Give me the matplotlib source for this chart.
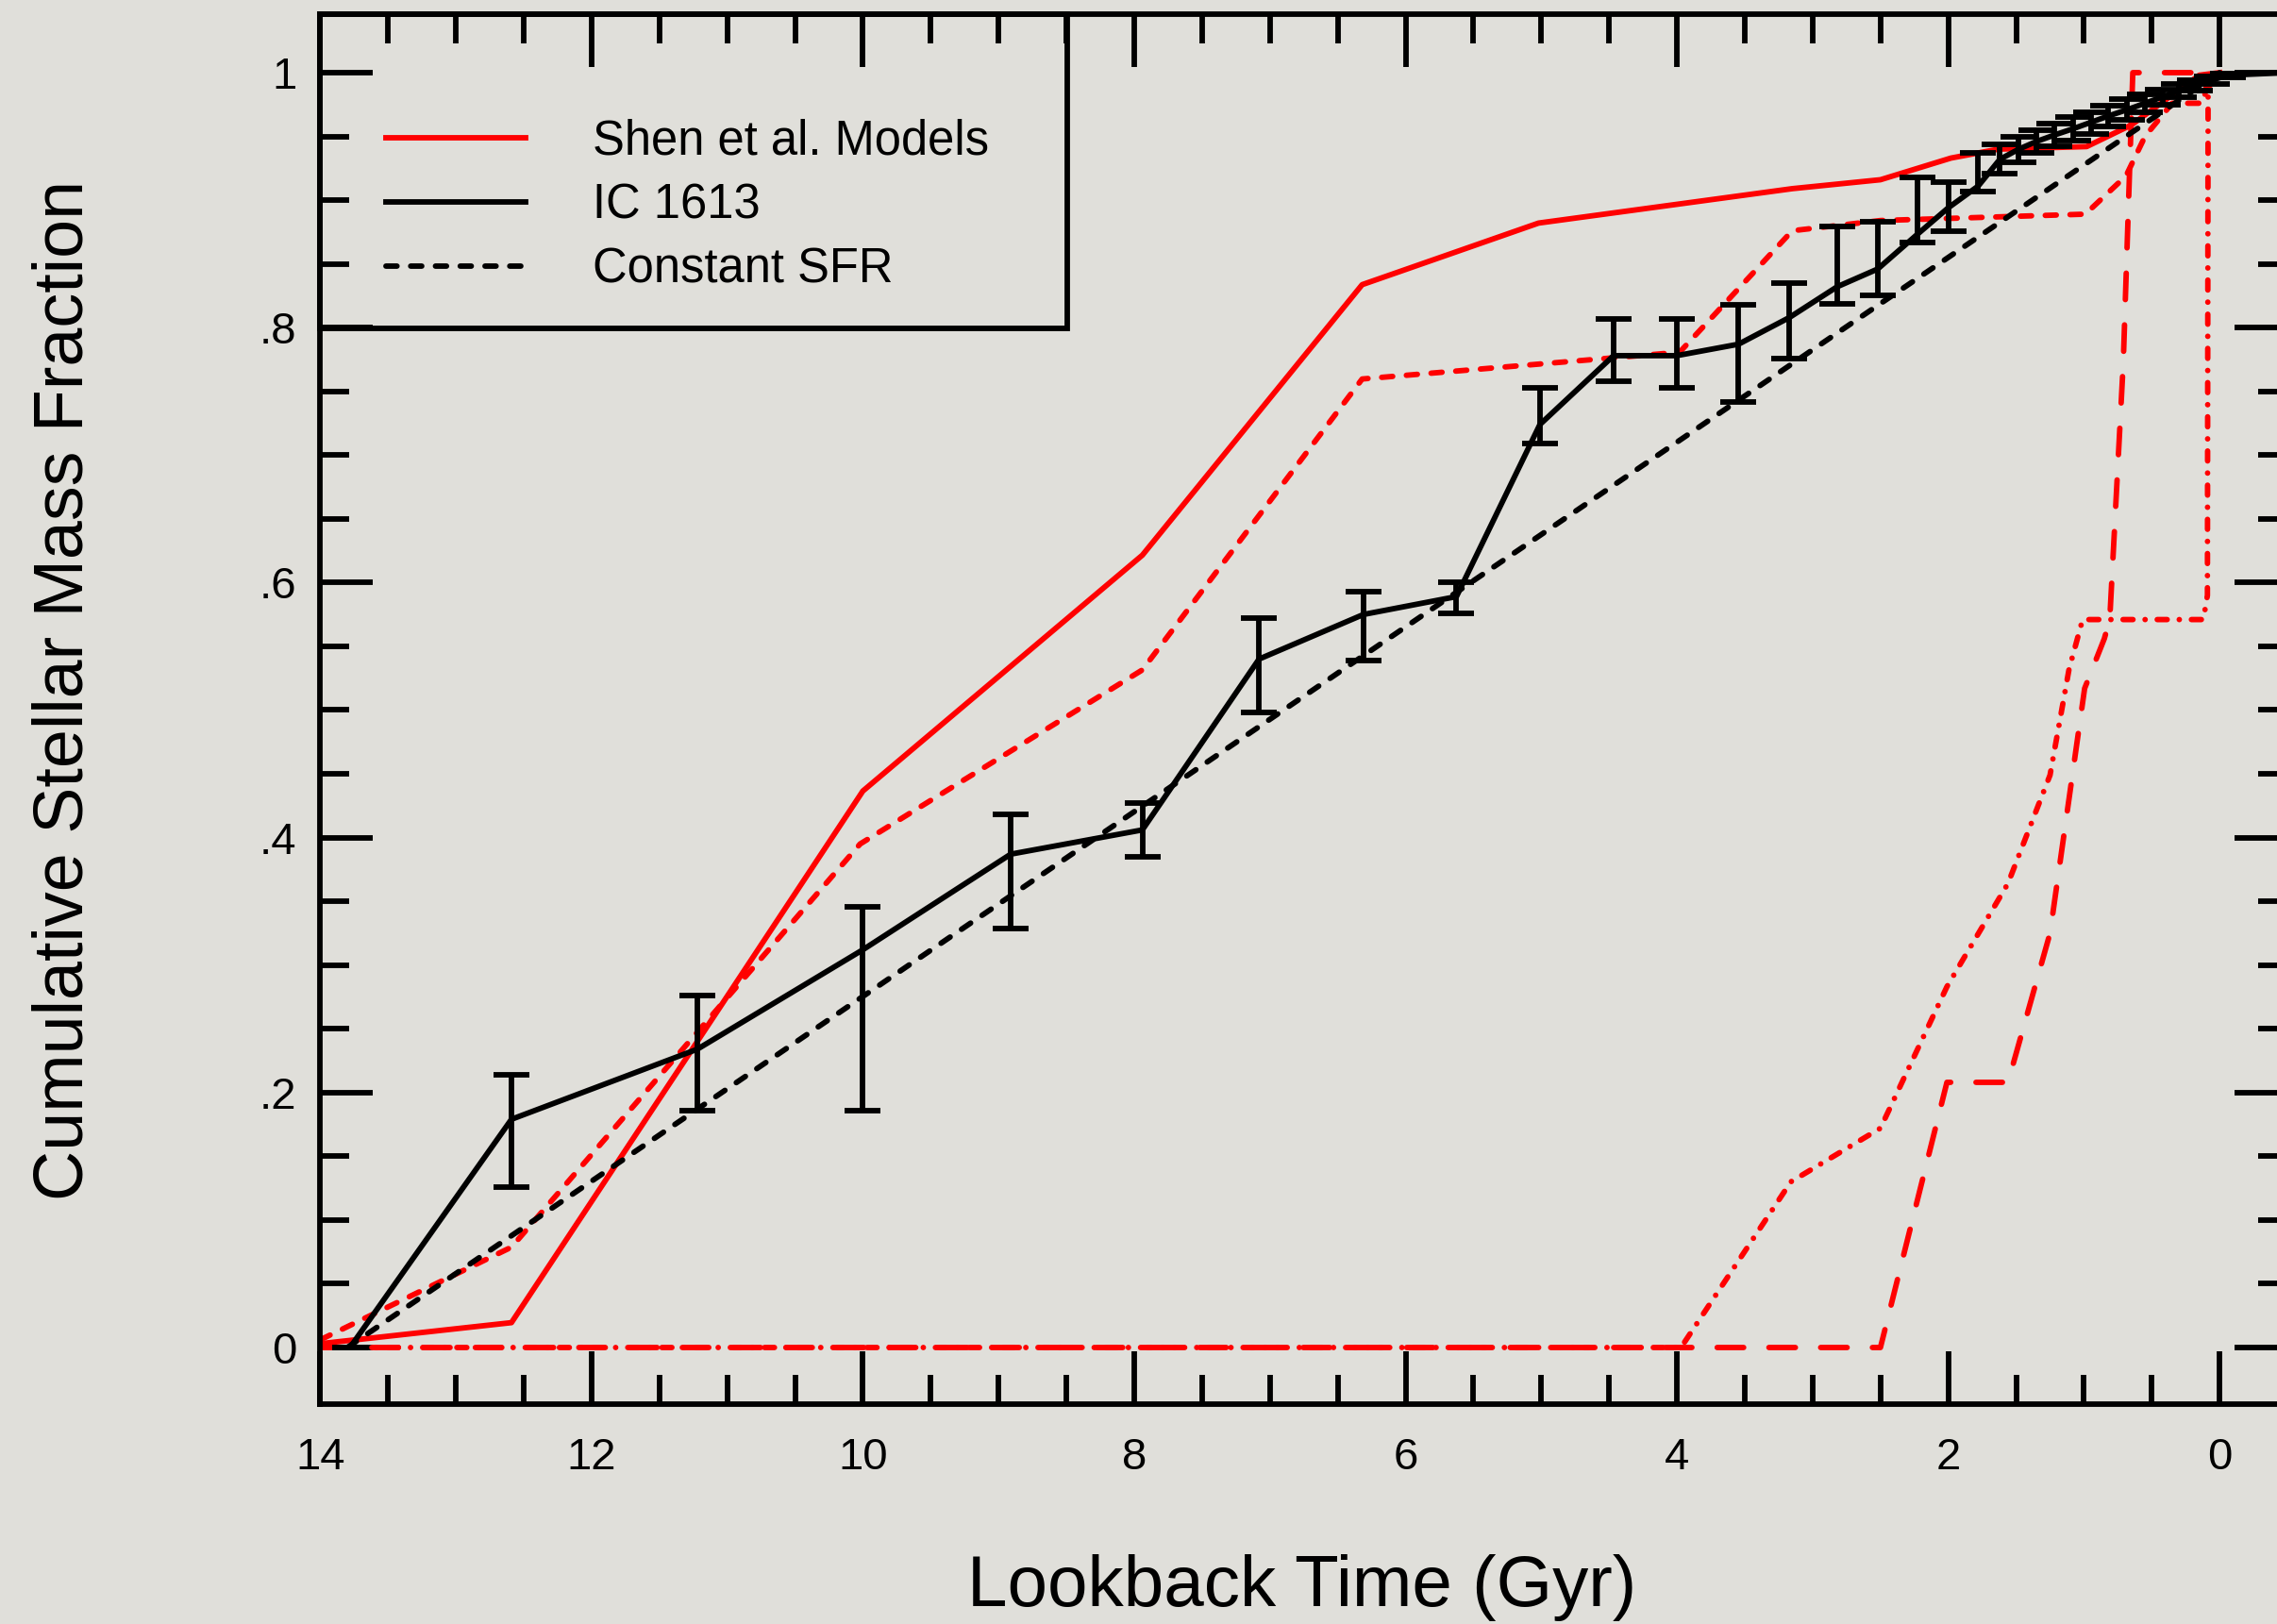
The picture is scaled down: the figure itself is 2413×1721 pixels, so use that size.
import matplotlib
matplotlib.use("Agg")
import matplotlib.pyplot as plt
from matplotlib.ticker import MultipleLocator
from matplotlib.lines import Line2D
from matplotlib.patches import Rectangle

plt.rcParams['font.family'] = ['Liberation Sans', 'DejaVu Sans']

# IC 1613 cumulative stellar mass fraction vs lookback time (Gyr), with error range
ic_t = [13.78, 12.59, 11.22, 10.00, 8.91, 7.94, 7.08, 6.31, 5.625, 5.01, 4.467, 4.003,
        3.546, 3.17, 2.82, 2.52, 2.23, 2.00, 1.78, 1.62, 1.48, 1.35, 1.22, 1.08, 0.95,
        0.82, 0.68, 0.55, 0.42, 0.30, 0.18, 0.06, -0.06, -0.5]
ic_f = [0.0, 0.179, 0.234, 0.312, 0.387, 0.406, 0.540, 0.575, 0.589, 0.724, 0.778, 0.778,
        0.787, 0.808, 0.832, 0.846, 0.873, 0.894, 0.911, 0.932, 0.940, 0.946, 0.951, 0.956, 0.961,
        0.966, 0.971, 0.976, 0.981, 0.986, 0.990, 0.994, 0.998, 1.0]
ic_lo = [0.0, 0.126, 0.186, 0.186, 0.329, 0.385, 0.498, 0.539, 0.576, 0.709, 0.758, 0.753,
         0.742, 0.776, 0.819, 0.825, 0.867, 0.876, 0.907, 0.921, 0.930, 0.937, 0.942, 0.947, 0.952,
         0.958, 0.963, 0.969, 0.975, 0.981, 0.986, 0.991, 0.996, 1.0]
ic_hi = [0.0, 0.214, 0.276, 0.346, 0.418, 0.427, 0.572, 0.593, 0.600, 0.753, 0.807, 0.807,
         0.818, 0.835, 0.879, 0.883, 0.918, 0.914, 0.937, 0.944, 0.950, 0.955, 0.960, 0.965, 0.969,
         0.974, 0.979, 0.983, 0.987, 0.991, 0.994, 0.997, 0.999, 1.0]

# constant SFR
const_t = [13.8, 0.0]
const_f = [0.0, 1.0]

# Shen et al. models
shen1_t = [14.0, 12.59, 10.0, 7.94, 6.32, 5.02, 3.15, 2.50, 1.98, 1.63, 0.98, 0.65, 0.15, 0.0]
shen1_f = [0.003, 0.0195, 0.4365, 0.6215, 0.8337, 0.882, 0.909, 0.916, 0.933, 0.940, 0.942, 0.959, 0.998, 1.0]

shen2_t = [14.0, 12.59, 10.02, 7.94, 6.32, 3.98, 3.15, 2.50, 0.99, 0.69, 0.55, 0.35, 0.12, 0.08]
shen2_f = [0.006, 0.0787, 0.395, 0.5315, 0.7597, 0.7807, 0.876, 0.884, 0.889, 0.919, 0.950, 0.976, 0.976, 1.0]

shen3_t = [14.0, 2.50, 2.01, 1.56, 1.25, 0.995, 0.85, 0.81, 0.71, 0.64, 0.20]
shen3_f = [0.0, 0.0, 0.208, 0.208, 0.325, 0.517, 0.556, 0.571, 0.773, 1.0, 1.0]

shen4_t = [14.0, 3.97, 3.16, 2.50, 2.01, 1.56, 1.25, 1.11, 1.01, 0.12, 0.09, 0.085, 0.0]
shen4_f = [0.0, 0.0, 0.130, 0.172, 0.283, 0.364, 0.449, 0.532, 0.571, 0.571, 0.59, 0.988, 1.0]

x_major = [14, 12, 10, 8, 6, 4, 2, 0]
y_major = [0, 0.2, 0.4, 0.6, 0.8, 1.0]
y_labels = ['0', '.2', '.4', '.6', '.8', '1']

bg = '#e0dfda'
lw = 4.2
short_dash = (0, (2.0, 2.5))
long_dash = (0, (4.8, 4.6))
dash_dot = (0, (1.8, 2.2, 0.01, 2.2))

fig = plt.figure(figsize=(24.13, 17.21), dpi=100, facecolor=bg)
ax = fig.add_axes([0.1406, 0.1354, 0.8640, 0.8559])
ax.set_facecolor('none')

ax.plot(shen4_t, shen4_f, color='red', lw=lw, linestyle=dash_dot, dash_capstyle='round')
ax.plot(shen3_t, shen3_f, color='red', lw=lw, linestyle=long_dash, dash_capstyle='round')
ax.plot(shen2_t, shen2_f, color='red', lw=lw, linestyle=short_dash, dash_capstyle='round')
ax.plot(shen1_t, shen1_f, color='red', lw=lw)
ax.plot(const_t, const_f, color='black', lw=lw, linestyle=short_dash, dash_capstyle='round')

yerr = [[f - lo for f, lo in zip(ic_f, ic_lo)], [hi - f for f, hi in zip(ic_f, ic_hi)]]
ax.errorbar(ic_t, ic_f, yerr=yerr, color='black', lw=lw, elinewidth=lw,
            capsize=13.7, capthick=lw, solid_capstyle='round')

ax.set_xlim(14, -0.5)
ax.set_ylim(-0.0444, 1.0459)
ax.set_xticks(x_major)
ax.set_xticklabels([str(v) for v in x_major])
ax.set_yticks(y_major)
ax.set_yticklabels(y_labels)
ax.xaxis.set_minor_locator(MultipleLocator(0.5))
ax.yaxis.set_minor_locator(MultipleLocator(0.05))
ax.tick_params(which='both', direction='in', top=True, right=True, width=lw, color='black')
ax.tick_params(which='major', length=40)
ax.tick_params(which='minor', length=22)
ax.tick_params(axis='x', which='major', labelsize=34, pad=25)
ax.tick_params(axis='y', which='major', labelsize=34, pad=18)
for sp in ax.spines.values():
    sp.set_linewidth(lw)

# legend box in the upper left corner
ax.add_patch(Rectangle((0, 0.7739), 0.3798, 0.2261, transform=ax.transAxes,
                       fill=False, edgecolor='black', lw=lw, clip_on=False))
leg_items = [("Shen et al. Models", 'red', '-', 0.9111),
             ("IC 1613", 'black', '-', 0.8649),
             ("Constant SFR", 'black', short_dash, 0.8187)]
for label, col, ls, yy in leg_items:
    ax.add_line(Line2D([0.0334, 0.1044], [yy, yy], transform=ax.transAxes, color=col,
                       lw=lw, linestyle=ls, dash_capstyle='round'))
    ax.text(0.1385, yy - 0.0119, label, transform=ax.transAxes, fontsize=36.5,
            va='baseline', ha='left')

fig.text(1380 / 2413, 1 - 1702 / 1721, "Lookback Time (Gyr)", fontsize=55,
         ha='center', va='baseline')
fig.text(68 / 2413, 1 - 731 / 1721, "Cumulative Stellar Mass Fraction", fontsize=53,
         rotation=90, ha='center', va='center')

fig.savefig("out.png", dpi=100, facecolor=bg)
